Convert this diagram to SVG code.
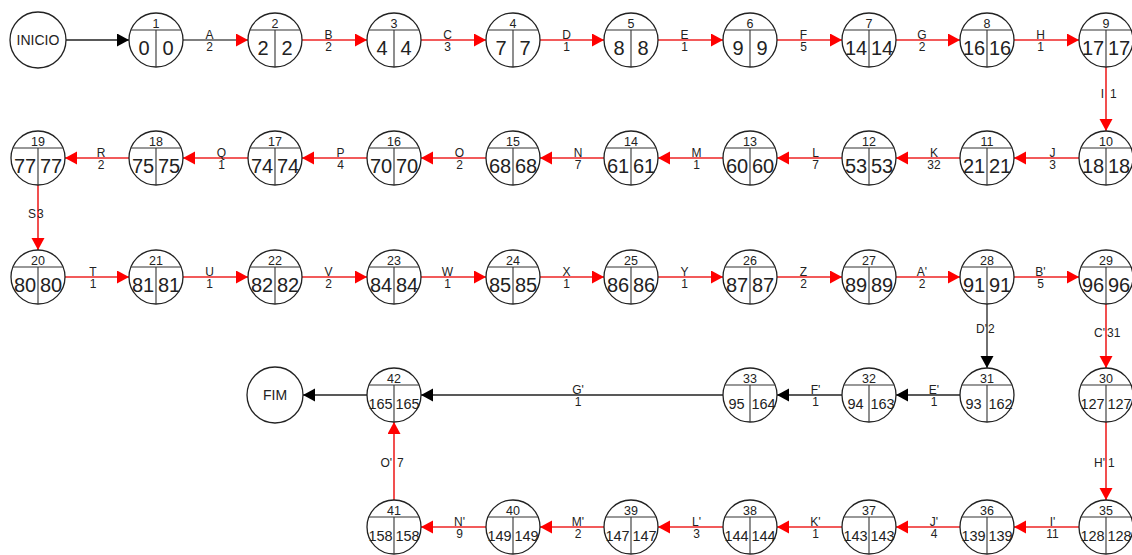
<svg xmlns="http://www.w3.org/2000/svg" width="1132" height="555" viewBox="0 0 1132 555">
<style>
text{font-family:"Liberation Sans",Arial,sans-serif;fill:#222}
.c{fill:#fff;stroke:#222;stroke-width:1.3}
.d{fill:none;stroke:#333;stroke-width:1.1}
.t{font-size:12.5px;text-anchor:middle}
.v{font-size:20px;text-anchor:middle}
.v3{font-size:14.5px;text-anchor:middle}
.lb{font-size:14px;text-anchor:middle}
.r{fill:none;stroke:#ee2424;stroke-width:1.6;marker-end:url(#ar)}
.g{fill:none;stroke:#555;stroke-width:1.4;marker-end:url(#ar)}
.k{fill:none;stroke:#222;stroke-width:1.3;marker-end:url(#ak)}
.el{font-size:12px;text-anchor:middle}
.ee{font-size:12px;text-anchor:end}
.es{font-size:12px;text-anchor:start}
</style>
<defs>
<marker id="ar" markerUnits="userSpaceOnUse" markerWidth="13" markerHeight="14" refX="12" refY="6.5" orient="auto"><path d="M0,0L12,6.5L0,13z" fill="#f00"/></marker>
<marker id="ak" markerUnits="userSpaceOnUse" markerWidth="13" markerHeight="14" refX="12" refY="6.5" orient="auto"><path d="M0,0L12,6.5L0,13z" fill="#000"/></marker>
</defs>
<rect width="1132" height="555" fill="#fff"/>
<g id="connectors">
<path class="k" d="M66,40H129"/>
<path class="g" d="M183,40H248"/><text class="el" x="209.5" y="39">A</text><text class="el" x="209.5" y="51">2</text>
<path class="r" d="M302,40H367"/><text class="el" x="328.5" y="39">B</text><text class="el" x="328.5" y="51">2</text>
<path class="r" d="M421,40H486"/><text class="el" x="447.5" y="39">C</text><text class="el" x="447.5" y="51">3</text>
<path class="r" d="M540,40H604"/><text class="el" x="566.5" y="39">D</text><text class="el" x="566.5" y="51">1</text>
<path class="r" d="M658,40H723"/><text class="el" x="684.5" y="39">E</text><text class="el" x="684.5" y="51">1</text>
<path class="r" d="M777,40H842"/><text class="el" x="803.5" y="39">F</text><text class="el" x="803.5" y="51">5</text>
<path class="r" d="M896,40H960"/><text class="el" x="922" y="39">G</text><text class="el" x="922" y="51">2</text>
<path class="r" d="M1014,40H1079"/><text class="el" x="1040.5" y="39">H</text><text class="el" x="1040.5" y="51">1</text>
<path class="r" d="M1106,67V131"/><text class="ee" x="1104" y="98">I</text><text class="es" x="1110" y="98">1</text>
<path class="r" d="M1079,158H1014"/><text class="el" x="1052.5" y="157">J</text><text class="el" x="1052.5" y="169">3</text>
<path class="r" d="M960,158H896"/><text class="el" x="934" y="157">K</text><text class="el" x="934" y="169">32</text>
<path class="r" d="M842,158H777"/><text class="el" x="815.5" y="157">L</text><text class="el" x="815.5" y="169">7</text>
<path class="r" d="M723,158H658"/><text class="el" x="696.5" y="157">M</text><text class="el" x="696.5" y="169">1</text>
<path class="r" d="M604,158H540"/><text class="el" x="578" y="157">N</text><text class="el" x="578" y="169">7</text>
<path class="r" d="M486,158H421"/><text class="el" x="459.5" y="157">O</text><text class="el" x="459.5" y="169">2</text>
<path class="r" d="M367,158H302"/><text class="el" x="340.5" y="157">P</text><text class="el" x="340.5" y="169">4</text>
<path class="r" d="M248,158H183"/><text class="el" x="221.5" y="157">Q</text><text class="el" x="221.5" y="169">1</text>
<path class="r" d="M129,158H65"/><text class="el" x="101" y="157">R</text><text class="el" x="101" y="169">2</text>
<path class="r" d="M38,185V250"/><text class="ee" x="36" y="218">S</text><text class="es" x="37" y="218">3</text>
<path class="r" d="M65,277H129"/><text class="el" x="93" y="276">T</text><text class="el" x="93" y="288">1</text>
<path class="r" d="M183,277H248"/><text class="el" x="209.5" y="276">U</text><text class="el" x="209.5" y="288">1</text>
<path class="r" d="M302,277H367"/><text class="el" x="328.5" y="276">V</text><text class="el" x="328.5" y="288">2</text>
<path class="r" d="M421,277H486"/><text class="el" x="447.5" y="276">W</text><text class="el" x="447.5" y="288">1</text>
<path class="r" d="M540,277H604"/><text class="el" x="566.5" y="276">X</text><text class="el" x="566.5" y="288">1</text>
<path class="r" d="M658,277H723"/><text class="el" x="684.5" y="276">Y</text><text class="el" x="684.5" y="288">1</text>
<path class="r" d="M777,277H842"/><text class="el" x="803.5" y="276">Z</text><text class="el" x="803.5" y="288">2</text>
<path class="r" d="M896,277H960"/><text class="el" x="922" y="276">A'</text><text class="el" x="922" y="288">2</text>
<path class="r" d="M1014,277H1079"/><text class="el" x="1040.5" y="276">B'</text><text class="el" x="1040.5" y="288">5</text>
<path class="k" d="M987,304V368"/><text class="ee" x="987" y="333">D'</text><text class="es" x="988" y="333">2</text>
<path class="r" d="M1106,304V368"/><text class="ee" x="1105" y="337">C'</text><text class="es" x="1107" y="337">31</text>
<path class="k" d="M960,395H896"/><text class="el" x="934" y="394">E'</text><text class="el" x="934" y="406">1</text>
<path class="k" d="M842,395H777"/><text class="el" x="815.5" y="394">F'</text><text class="el" x="815.5" y="406">1</text>
<path class="k" d="M723,395H421"/><text class="el" x="578" y="394">G'</text><text class="el" x="578" y="406">1</text>
<path class="k" d="M367,395H303"/>
<path class="r" d="M1106,422V500"/><text class="ee" x="1105" y="467">H'</text><text class="es" x="1108" y="467">1</text>
<path class="r" d="M1079,527H1014"/><text class="el" x="1052.5" y="526">I'</text><text class="el" x="1052.5" y="538">11</text>
<path class="r" d="M960,527H896"/><text class="el" x="934" y="526">J'</text><text class="el" x="934" y="538">4</text>
<path class="r" d="M842,527H777"/><text class="el" x="815.5" y="526">K'</text><text class="el" x="815.5" y="538">1</text>
<path class="r" d="M723,527H658"/><text class="el" x="696.5" y="526">L'</text><text class="el" x="696.5" y="538">3</text>
<path class="r" d="M604,527H540"/><text class="el" x="578" y="526">M'</text><text class="el" x="578" y="538">2</text>
<path class="r" d="M486,527H421"/><text class="el" x="459.5" y="526">N'</text><text class="el" x="459.5" y="538">9</text>
<path class="r" d="M394,500V422"/><text class="ee" x="392" y="467">O'</text><text class="es" x="397" y="467">7</text>
</g>
<g id="inicio" transform="translate(38,40)"><circle class="c" r="28"/><text class="lb" y="5">INICIO</text></g>
<g id="fim" transform="translate(275,395)"><circle class="c" r="28"/><text class="lb" y="5">FIM</text></g>
<g id="n1" transform="translate(156,40)"><circle class="c" r="27"/><path class="d" d="M-25.1,-10H25.1M0,-10V27"/><text class="t" y="-12">1</text><text class="v" x="-12" y="15">0</text><text class="v" x="12" y="15">0</text></g>
<g id="n2" transform="translate(275,40)"><circle class="c" r="27"/><path class="d" d="M-25.1,-10H25.1M0,-10V27"/><text class="t" y="-12">2</text><text class="v" x="-12" y="15">2</text><text class="v" x="12" y="15">2</text></g>
<g id="n3" transform="translate(394,40)"><circle class="c" r="27"/><path class="d" d="M-25.1,-10H25.1M0,-10V27"/><text class="t" y="-12">3</text><text class="v" x="-12" y="15">4</text><text class="v" x="12" y="15">4</text></g>
<g id="n4" transform="translate(513,40)"><circle class="c" r="27"/><path class="d" d="M-25.1,-10H25.1M0,-10V27"/><text class="t" y="-12">4</text><text class="v" x="-12" y="15">7</text><text class="v" x="12" y="15">7</text></g>
<g id="n5" transform="translate(631,40)"><circle class="c" r="27"/><path class="d" d="M-25.1,-10H25.1M0,-10V27"/><text class="t" y="-12">5</text><text class="v" x="-12" y="15">8</text><text class="v" x="12" y="15">8</text></g>
<g id="n6" transform="translate(750,40)"><circle class="c" r="27"/><path class="d" d="M-25.1,-10H25.1M0,-10V27"/><text class="t" y="-12">6</text><text class="v" x="-12" y="15">9</text><text class="v" x="12" y="15">9</text></g>
<g id="n7" transform="translate(869,40)"><circle class="c" r="27"/><path class="d" d="M-25.1,-10H25.1M0,-10V27"/><text class="t" y="-12">7</text><text class="v" x="-13" y="15">14</text><text class="v" x="13" y="15">14</text></g>
<g id="n8" transform="translate(987,40)"><circle class="c" r="27"/><path class="d" d="M-25.1,-10H25.1M0,-10V27"/><text class="t" y="-12">8</text><text class="v" x="-13" y="15">16</text><text class="v" x="13" y="15">16</text></g>
<g id="n9" transform="translate(1106,40)"><circle class="c" r="27"/><path class="d" d="M-25.1,-10H25.1M0,-10V27"/><text class="t" y="-12">9</text><text class="v" x="-13" y="15">17</text><text class="v" x="13" y="15">17</text></g>
<g id="n10" transform="translate(1106,158)"><circle class="c" r="27"/><path class="d" d="M-25.1,-10H25.1M0,-10V27"/><text class="t" y="-12">10</text><text class="v" x="-13" y="15">18</text><text class="v" x="13" y="15">18</text></g>
<g id="n11" transform="translate(987,158)"><circle class="c" r="27"/><path class="d" d="M-25.1,-10H25.1M0,-10V27"/><text class="t" y="-12">11</text><text class="v" x="-13" y="15">21</text><text class="v" x="13" y="15">21</text></g>
<g id="n12" transform="translate(869,158)"><circle class="c" r="27"/><path class="d" d="M-25.1,-10H25.1M0,-10V27"/><text class="t" y="-12">12</text><text class="v" x="-13" y="15">53</text><text class="v" x="13" y="15">53</text></g>
<g id="n13" transform="translate(750,158)"><circle class="c" r="27"/><path class="d" d="M-25.1,-10H25.1M0,-10V27"/><text class="t" y="-12">13</text><text class="v" x="-13" y="15">60</text><text class="v" x="13" y="15">60</text></g>
<g id="n14" transform="translate(631,158)"><circle class="c" r="27"/><path class="d" d="M-25.1,-10H25.1M0,-10V27"/><text class="t" y="-12">14</text><text class="v" x="-13" y="15">61</text><text class="v" x="13" y="15">61</text></g>
<g id="n15" transform="translate(513,158)"><circle class="c" r="27"/><path class="d" d="M-25.1,-10H25.1M0,-10V27"/><text class="t" y="-12">15</text><text class="v" x="-13" y="15">68</text><text class="v" x="13" y="15">68</text></g>
<g id="n16" transform="translate(394,158)"><circle class="c" r="27"/><path class="d" d="M-25.1,-10H25.1M0,-10V27"/><text class="t" y="-12">16</text><text class="v" x="-13" y="15">70</text><text class="v" x="13" y="15">70</text></g>
<g id="n17" transform="translate(275,158)"><circle class="c" r="27"/><path class="d" d="M-25.1,-10H25.1M0,-10V27"/><text class="t" y="-12">17</text><text class="v" x="-13" y="15">74</text><text class="v" x="13" y="15">74</text></g>
<g id="n18" transform="translate(156,158)"><circle class="c" r="27"/><path class="d" d="M-25.1,-10H25.1M0,-10V27"/><text class="t" y="-12">18</text><text class="v" x="-13" y="15">75</text><text class="v" x="13" y="15">75</text></g>
<g id="n19" transform="translate(38,158)"><circle class="c" r="27"/><path class="d" d="M-25.1,-10H25.1M0,-10V27"/><text class="t" y="-12">19</text><text class="v" x="-13" y="15">77</text><text class="v" x="13" y="15">77</text></g>
<g id="n20" transform="translate(38,277)"><circle class="c" r="27"/><path class="d" d="M-25.1,-10H25.1M0,-10V27"/><text class="t" y="-12">20</text><text class="v" x="-13" y="15">80</text><text class="v" x="13" y="15">80</text></g>
<g id="n21" transform="translate(156,277)"><circle class="c" r="27"/><path class="d" d="M-25.1,-10H25.1M0,-10V27"/><text class="t" y="-12">21</text><text class="v" x="-13" y="15">81</text><text class="v" x="13" y="15">81</text></g>
<g id="n22" transform="translate(275,277)"><circle class="c" r="27"/><path class="d" d="M-25.1,-10H25.1M0,-10V27"/><text class="t" y="-12">22</text><text class="v" x="-13" y="15">82</text><text class="v" x="13" y="15">82</text></g>
<g id="n23" transform="translate(394,277)"><circle class="c" r="27"/><path class="d" d="M-25.1,-10H25.1M0,-10V27"/><text class="t" y="-12">23</text><text class="v" x="-13" y="15">84</text><text class="v" x="13" y="15">84</text></g>
<g id="n24" transform="translate(513,277)"><circle class="c" r="27"/><path class="d" d="M-25.1,-10H25.1M0,-10V27"/><text class="t" y="-12">24</text><text class="v" x="-13" y="15">85</text><text class="v" x="13" y="15">85</text></g>
<g id="n25" transform="translate(631,277)"><circle class="c" r="27"/><path class="d" d="M-25.1,-10H25.1M0,-10V27"/><text class="t" y="-12">25</text><text class="v" x="-13" y="15">86</text><text class="v" x="13" y="15">86</text></g>
<g id="n26" transform="translate(750,277)"><circle class="c" r="27"/><path class="d" d="M-25.1,-10H25.1M0,-10V27"/><text class="t" y="-12">26</text><text class="v" x="-13" y="15">87</text><text class="v" x="13" y="15">87</text></g>
<g id="n27" transform="translate(869,277)"><circle class="c" r="27"/><path class="d" d="M-25.1,-10H25.1M0,-10V27"/><text class="t" y="-12">27</text><text class="v" x="-13" y="15">89</text><text class="v" x="13" y="15">89</text></g>
<g id="n28" transform="translate(987,277)"><circle class="c" r="27"/><path class="d" d="M-25.1,-10H25.1M0,-10V27"/><text class="t" y="-12">28</text><text class="v" x="-13" y="15">91</text><text class="v" x="13" y="15">91</text></g>
<g id="n29" transform="translate(1106,277)"><circle class="c" r="27"/><path class="d" d="M-25.1,-10H25.1M0,-10V27"/><text class="t" y="-12">29</text><text class="v" x="-13" y="15">96</text><text class="v" x="13" y="15">96</text></g>
<g id="n30" transform="translate(1106,395)"><circle class="c" r="27"/><path class="d" d="M-25.1,-10H25.1M0,-10V27"/><text class="t" y="-12">30</text><text class="v3" x="-13.5" y="14">127</text><text class="v3" x="13.5" y="14">127</text></g>
<g id="n31" transform="translate(987,395)"><circle class="c" r="27"/><path class="d" d="M-25.1,-10H25.1M0,-10V27"/><text class="t" y="-12">31</text><text class="v3" x="-13.5" y="14">93</text><text class="v3" x="13.5" y="14">162</text></g>
<g id="n32" transform="translate(869,395)"><circle class="c" r="27"/><path class="d" d="M-25.1,-10H25.1M0,-10V27"/><text class="t" y="-12">32</text><text class="v3" x="-13.5" y="14">94</text><text class="v3" x="13.5" y="14">163</text></g>
<g id="n33" transform="translate(750,395)"><circle class="c" r="27"/><path class="d" d="M-25.1,-10H25.1M0,-10V27"/><text class="t" y="-12">33</text><text class="v3" x="-13.5" y="14">95</text><text class="v3" x="13.5" y="14">164</text></g>
<g id="n42" transform="translate(394,395)"><circle class="c" r="27"/><path class="d" d="M-25.1,-10H25.1M0,-10V27"/><text class="t" y="-12">42</text><text class="v3" x="-13.5" y="14">165</text><text class="v3" x="13.5" y="14">165</text></g>
<g id="n35" transform="translate(1106,527)"><circle class="c" r="27"/><path class="d" d="M-25.1,-10H25.1M0,-10V27"/><text class="t" y="-12">35</text><text class="v3" x="-13.5" y="14">128</text><text class="v3" x="13.5" y="14">128</text></g>
<g id="n36" transform="translate(987,527)"><circle class="c" r="27"/><path class="d" d="M-25.1,-10H25.1M0,-10V27"/><text class="t" y="-12">36</text><text class="v3" x="-13.5" y="14">139</text><text class="v3" x="13.5" y="14">139</text></g>
<g id="n37" transform="translate(869,527)"><circle class="c" r="27"/><path class="d" d="M-25.1,-10H25.1M0,-10V27"/><text class="t" y="-12">37</text><text class="v3" x="-13.5" y="14">143</text><text class="v3" x="13.5" y="14">143</text></g>
<g id="n38" transform="translate(750,527)"><circle class="c" r="27"/><path class="d" d="M-25.1,-10H25.1M0,-10V27"/><text class="t" y="-12">38</text><text class="v3" x="-13.5" y="14">144</text><text class="v3" x="13.5" y="14">144</text></g>
<g id="n39" transform="translate(631,527)"><circle class="c" r="27"/><path class="d" d="M-25.1,-10H25.1M0,-10V27"/><text class="t" y="-12">39</text><text class="v3" x="-13.5" y="14">147</text><text class="v3" x="13.5" y="14">147</text></g>
<g id="n40" transform="translate(513,527)"><circle class="c" r="27"/><path class="d" d="M-25.1,-10H25.1M0,-10V27"/><text class="t" y="-12">40</text><text class="v3" x="-13.5" y="14">149</text><text class="v3" x="13.5" y="14">149</text></g>
<g id="n41" transform="translate(394,527)"><circle class="c" r="27"/><path class="d" d="M-25.1,-10H25.1M0,-10V27"/><text class="t" y="-12">41</text><text class="v3" x="-13.5" y="14">158</text><text class="v3" x="13.5" y="14">158</text></g>
</svg>
